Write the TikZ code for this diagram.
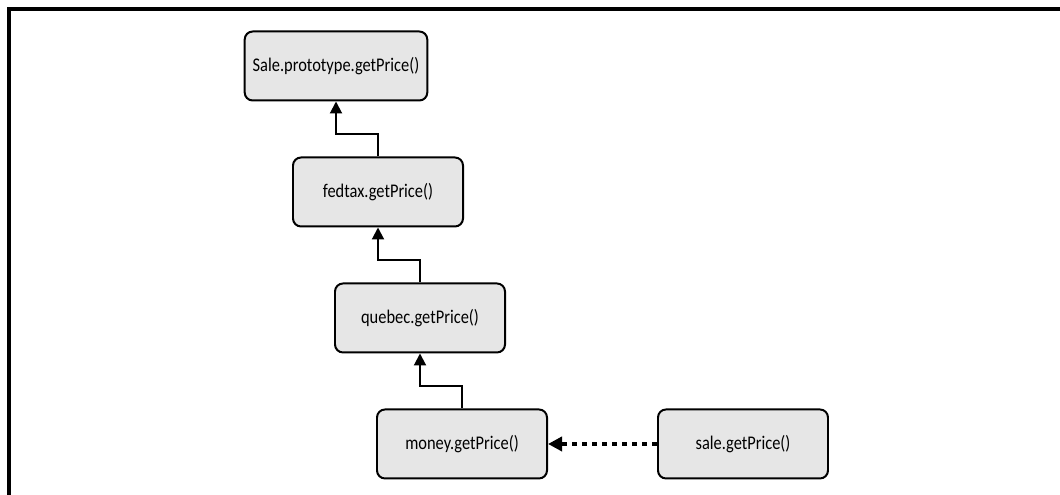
\documentclass[tikz,border=0pt]{standalone}
\usepackage{fontspec}
\setmainfont{Carlito}[FakeStretch=0.85]
\usepackage{tikz}
\usetikzlibrary{positioning}
\usetikzlibrary{positioning,arrows.meta}
\definecolor{boxgray}{HTML}{E6E6E6}
\newcommand{\linkup}[2]{%
\draw[-{Triangle[length=0.36cm,width=0.36cm]}, line width=1.7pt] (#1.north) -- ++(0,0.66) -| (#2.south);%
}

\begin{document}
\begin{tikzpicture}
\useasboundingbox (0,0) rectangle (31.8,-14.85);
\tikzset{method/.style={draw,
	fill=boxgray,
	rounded corners=0.24cm,
	minimum width=5.1cm,
	minimum height=2.07cm,
	inner xsep=0.24cm,
	line width=1.7pt,
	font=\fontsize{16.5}{19}\selectfont
}}

% Frame
\draw[line width=2.6pt] (0.27,-14.85) -- (0.27,-0.27) -- (31.8,-0.27);

% Sale.prototype
\node [method] (proto) at (10.08,-1.98) {
Sale.prototype.getPrice()
};

% fedtax
\node [method,
	below = 1.65cm of proto,
	xshift=1.26cm
]  (fedtax) {
fedtax.getPrice()
};

% quebec
\node [method,
	below = 1.65cm of fedtax,
	xshift=1.26cm
]  (quebec) {
quebec.getPrice()
};

% money
\node [method,
	below = 1.65cm of quebec,
	xshift=1.26cm
]  (money) {
money.getPrice()
};

% sale
\node [method,
	right = 3.27cm of money
]  (sale) {
sale.getPrice()
};

% Arrows
\linkup{fedtax}{proto}
\linkup{quebec}{fedtax}
\linkup{money}{quebec}
\draw[-{Triangle[length=0.42cm,width=0.42cm]}, line width=3.4pt, dash pattern=on 0.15cm off 0.15cm] (sale.west) -- (money.east);

\end{tikzpicture}
\end{document}
